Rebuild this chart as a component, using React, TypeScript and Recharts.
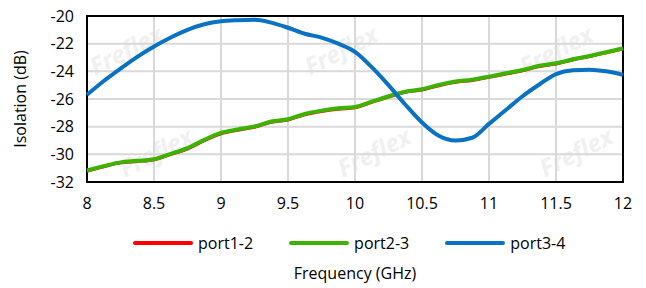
import React from 'react';
import { LineChart, Line, XAxis, YAxis, CartesianGrid, ReferenceArea } from 'recharts';

const freq = [
  8, 8.125, 8.25, 8.375, 8.5, 8.625, 8.75, 8.875, 9, 9.125, 9.25, 9.375, 9.5, 9.625, 9.75, 9.875, 10,
  10.125, 10.25, 10.375, 10.5, 10.625, 10.75, 10.875, 11, 11.125, 11.25, 11.375, 11.5, 11.625, 11.75, 11.875, 12,
];

const port12 = [
  -31.2, -30.88, -30.6, -30.5, -30.37, -29.99, -29.6, -29.0, -28.5, -28.24, -28.02, -27.66, -27.5, -27.12, -26.88,
  -26.72, -26.62, -26.23, -25.84, -25.5, -25.33, -25.02, -24.78, -24.64, -24.42, -24.18, -23.94, -23.64, -23.45,
  -23.16, -22.92, -22.65, -22.36,
];

const port23 = [
  -31.17, -30.85, -30.58, -30.47, -30.35, -29.96, -29.55, -28.95, -28.45, -28.2, -27.99, -27.63, -27.46, -27.08,
  -26.84, -26.67, -26.58, -26.19, -25.8, -25.47, -25.3, -24.98, -24.74, -24.6, -24.38, -24.14, -23.9, -23.6,
  -23.42, -23.13, -22.89, -22.62, -22.33,
];

const port34 = [
  -25.7, -24.7, -23.8, -22.95, -22.2, -21.55, -21.0, -20.6, -20.38, -20.3, -20.27, -20.48, -20.85, -21.28,
  -21.56, -22.0, -22.6, -23.7, -25.0, -26.4, -27.7, -28.66, -29.0, -28.8, -27.8, -26.8, -25.8, -24.95, -24.2,
  -23.92, -23.88, -24.0, -24.26,
];

const xTicks = [8, 8.5, 9, 9.5, 10, 10.5, 11, 11.5, 12];
const yTicks = [-32, -30, -28, -26, -24, -22, -20];

const seriesInfo = [
  { key: 'port1-2', color: '#ff0000', width: 3.5 },
  { key: 'port2-3', color: '#3cb300', width: 4 },
  { key: 'port3-4', color: '#0a72c4', width: 4 },
];

// faint "Freflex" watermark, kept inside the plot box
const watermarks = [
  { x: 130, y: 58 }, { x: 345, y: 58 }, { x: 560, y: 58 },
  { x: 160, y: 160 }, { x: 378, y: 160 }, { x: 580, y: 160 },
];

const data = freq.map((f, i) => ({
  freq: f,
  'port1-2': port12[i],
  'port2-3': port23[i],
  'port3-4': port34[i],
}));

const font = '"Open Sans", "Noto Sans", sans-serif';

const App: React.FC = () => {
  return (
    <div style={{ position: 'fixed', left: 0, top: 0, width: 646, height: 288, background: '#fff', fontFamily: font }}>
      <svg width={646} height={288} style={{ position: 'absolute', left: 0, top: 0 }}>
        {watermarks.map((w, i) => (
          <text key={i} x={w.x} y={w.y} transform={`rotate(-27 ${w.x} ${w.y})`} textAnchor="middle"
            fill="#f0f0f0" fontFamily={font} fontWeight={700} fontStyle="italic" fontSize={24}>
            Freflex
          </text>
        ))}
      </svg>
      <div style={{ position: 'absolute', left: 0, top: 0 }}>
        <LineChart width={646} height={288} data={data} margin={{ top: 16, right: 23, left: 0, bottom: 0 }}>
          <CartesianGrid stroke="#d9d9d9" strokeWidth={2} />
          <XAxis dataKey="freq" type="number" domain={[8, 12]} ticks={xTicks} height={106}
            axisLine={false} tickLine={false} tickMargin={10} interval={0}
            tick={{ fontFamily: font, fontSize: 16, fill: '#000' }}
            label={{ value: 'Frequency (GHz)', position: 'insideBottom', offset: 9, style: { fontFamily: font, fontSize: 16, fill: '#000' } }} />
          <YAxis type="number" domain={[-32, -20]} ticks={yTicks} width={87}
            axisLine={false} tickLine={false} tickMargin={7} interval={0}
            tick={{ fontFamily: font, fontSize: 16, fill: '#000' }}
            label={{ value: 'Isolation (dB)', angle: -90, position: 'insideLeft', offset: 20, style: { fontFamily: font, fontSize: 16, fill: '#000', textAnchor: 'middle' } }} />
          <ReferenceArea x1={8} x2={12} y1={-32} y2={-20} fill="none" fillOpacity={0} stroke="#000" strokeWidth={2} />
          {seriesInfo.map((s) => (
            <Line key={s.key} type="monotone" dataKey={s.key} stroke={s.color} strokeWidth={s.width}
              dot={false} isAnimationActive={false} />
          ))}
        </LineChart>
      </div>
      <div style={{ position: 'absolute', left: 133, top: 231, height: 24, display: 'flex', alignItems: 'center', fontSize: 16, color: '#000' }}>
        {seriesInfo.map((s, i) => (
          <div key={s.key} style={{ display: 'flex', alignItems: 'center', marginRight: i < 2 ? 36 : 0 }}>
            <div style={{ width: 60, height: 4, borderRadius: 2, background: s.color, marginRight: 5 }} />
            <span>{s.key}</span>
          </div>
        ))}
      </div>
    </div>
  );
};

export default App;
